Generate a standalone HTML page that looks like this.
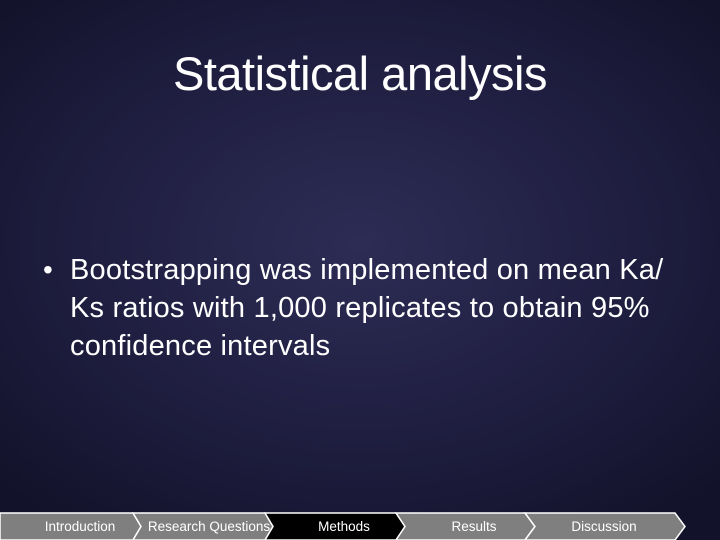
<!DOCTYPE html>
<html><head><meta charset="utf-8"><style>
body{margin:0}
#slide{position:relative;width:720px;height:540px;overflow:hidden;background:radial-gradient(ellipse 70% 65% at 50% 45%,#2d2c55 0%,#1f1e40 55%,#12122a 100%);font-family:"Liberation Sans",sans-serif;color:#fff}
h1{position:absolute;top:46px;left:0;width:720px;margin:0;text-align:center;font-weight:normal;font-size:47px;letter-spacing:-0.5px}
.b{position:absolute;top:251px;left:70px;width:650px;font-size:29px;line-height:38px;white-space:nowrap;letter-spacing:0.2px}
.dot{position:absolute;top:251px;left:43px;font-size:28px;line-height:38px}
</style></head><body>
<div id="slide">
<h1>Statistical analysis</h1>
<div class="dot">•</div>
<div class="b">Bootstrapping was implemented on mean Ka/<br>Ks ratios with 1,000 replicates to obtain 95%<br>confidence intervals</div>
<svg width="720" height="540" style="position:absolute;left:0;top:0">
<g stroke="#fff" stroke-width="1.5">
<polygon points="0,513 133,513 141,526.5 133,540 0,540" fill="#7f7f7f"/>
<polygon points="133,513 265,513 273,526.5 265,540 133,540 141,526.5" fill="#7f7f7f"/>
<polygon points="265,513 396,513 405,526.5 396,540 265,540 273,526.5" fill="#000"/>
<polygon points="396,513 525,513 535,526.5 525,540 396,540 405,526.5" fill="#7f7f7f"/>
<polygon points="525,513 675,513 685,526.5 675,540 525,540 535,526.5" fill="#7f7f7f"/>
</g>
<g fill="#fff" font-family="Liberation Sans, sans-serif" font-size="13.5" text-anchor="middle">
<text x="80" y="531">Introduction</text>
<text x="209" y="531">Research Questions</text>
<text x="344" y="531">Methods</text>
<text x="474" y="531">Results</text>
<text x="604" y="531">Discussion</text>
</g>
</svg>
</div>
</body></html>
